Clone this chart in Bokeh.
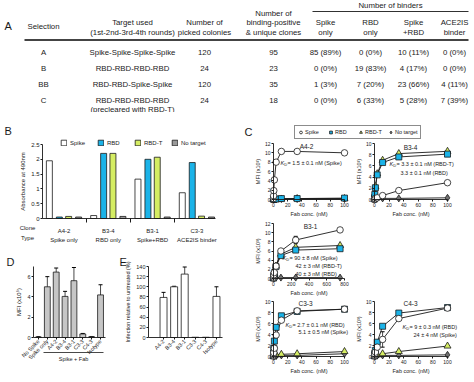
import math
from bokeh.plotting import figure
from bokeh.models import (Range1d, FixedTicker, Label, Legend, LegendItem, Whisker,
                          ColumnDataSource, Arrow, Spacer)
from bokeh.layouts import row, column
from bokeh.embed import file_html
from bokeh.resources import INLINE
from bokeh.core.properties import value

FONT = "Liberation Sans"
INK = "#1a1a1a"
CYAN = "#1bb3e8"
LIME = "#d5ed63"
GRAY = "#9a9a9a"
LGRAY = "#c6c6c6"
DGRAY = "#707070"

# ---------------- Panel A : table ----------------
selections = ["A", "B", "BB", "C"]
targets = ["Spike-Spike-Spike-Spike", "RBD-RBD-RBD-RBD", "RBD-RBD-Spike-Spike", "RBD-RBD-RBD-RBD"]
target_note = "(precleared with RBD-T)"
picked_colonies = [120, 24, 120, 24]
unique_clones = [95, 23, 35, 18]
spike_only = ["85 (89%)", "0 (0%)", "1 (3%)", "0 (0%)"]
rbd_only = ["0 (0%)", "19 (83%)", "7 (20%)", "6 (33%)"]
spike_rbd = ["10 (11%)", "4 (17%)", "23 (66%)", "5 (28%)"]
ace2is_binder = ["0 (0%)", "0 (0%)", "4 (11%)", "7 (39%)"]

# ---------------- Panel B : ELISA ----------------
b_clones = ["A4-2", "B3-4", "B3-1", "C3-3"]
b_types = ["Spike only", "RBD only", "Spike+RBD", "ACE2IS binder"]
b_spike = [1.95, 0.10, 1.33, 0.87]
b_rbd = [0.05, 2.20, 2.00, 1.89]
b_rbdt = [0.07, 2.20, 2.07, 0.08]
b_none = [0.05, 0.07, 0.05, 0.05]

# ---------------- Panel C : binding titrations ----------------
conc_nm = [0, 0.14, 0.41, 1.23, 3.7, 11.1, 33.3, 100]
conc_b31 = [0, 1.0, 3.1, 9.3, 27.8, 83.3, 250, 750]

a42_spike = [0.2, 0.8, 1.9, 4.2, 8.0, 10.3, 10.3, 10.0]
a42_rbd = [0.1, 0.1, 0.1, 0.1, 0.1, 0.2, 0.2, 0.3]
a42_rbdt = [0.1, 0.1, 0.1, 0.1, 0.1, 0.1, 0.2, 0.2]
a42_none = [0.1, 0.1, 0.1, 0.1, 0.1, 0.1, 0.1, 0.1]
a42_err = [0, 0, 0, 0, 0, 0, 0, 0]

b34_spike = [0.0, 0.05, 0.1, 0.15, 0.3, 0.7, 1.6, 3.0]
b34_rbd = [0.1, 0.3, 0.9, 2.1, 4.4, 6.6, 7.6, 8.1]
b34_rbdt = [0.1, 0.3, 1.0, 2.3, 4.6, 7.0, 8.2, 8.6]
b34_none = [0.1, 0.1, 0.1, 0.1, 0.2, 0.2, 0.2, 0.3]
b34_err = [0, 0, 0, 0, 0, 0, 0, 0]

b31_spike = [0.1, 0.3, 0.8, 1.3, 2.7, 6.0, 8.4, 10.6]
b31_rbd = [0.1, 0.3, 0.6, 1.0, 2.6, 5.0, 6.2, 6.5]
b31_rbdt = [0.1, 0.3, 0.6, 1.1, 2.7, 5.3, 6.8, 7.2]
b31_none = [0.1, 0.1, 0.1, 0.1, 0.2, 0.2, 0.2, 0.2]
b31_err = [0, 0, 0, 0, 0, 0, 0.8, 0]

c33_spike = [0.1, 0.3, 0.7, 1.5, 3.9, 6.6, 8.3, 8.6]
c33_rbd = [0.1, 0.6, 1.5, 2.8, 5.3, 7.4, 8.2, 8.6]
c33_rbdt = [0.1, 0.1, 0.1, 0.2, 0.3, 0.4, 0.5, 0.9]
c33_none = [0.1, 0.1, 0.1, 0.1, 0.1, 0.2, 0.2, 0.5]
c33_err = [0, 0, 0, 0, 0, 0, 0, 0]

c43_spike = [0.1, 0.2, 0.4, 0.8, 1.7, 3.1, 6.9, 8.8]
c43_rbd = [0.1, 0.3, 0.6, 1.1, 2.6, 5.5, 7.9, 8.9]
c43_rbdt = [0.1, 0.1, 0.1, 0.2, 0.3, 0.5, 0.9, 1.9]
c43_none = [0.1, 0.1, 0.1, 0.1, 0.2, 0.2, 0.2, 0.3]
c43_err = [0, 0, 0, 0, 0, 1.4, 0, 0]

kd_a42 = ["= 1.5 ± 0.1 nM (Spike)"]
kd_b34 = ["= 3.3 ± 0.1 nM (RBD-T)", "3.3 ± 0.1 nM (RBD)"]
kd_b31 = ["= 90 ± 8 nM (Spike)", "42 ± 3 nM (RBD-T)", "40 ± 3 nM (RBD)"]
kd_c33 = ["= 2.7 ± 0.1 nM (RBD)", "5.1 ± 0.5 nM (Spike)"]
kd_c43 = ["= 9 ± 0.3 nM (RBD)", "24 ± 4 nM (Spike)"]

# ---------------- Panel D ----------------
d_groups = ["No Spike", "Spike only", "A4-2", "B3-4", "B3-1", "C3-3", "C4-3", "Isotype"]
d_mfi = [0.05, 5.0, 6.45, 4.05, 5.6, 0.35, 0.08, 4.2]
d_err = [0.02, 1.0, 0.4, 0.5, 1.3, 0.05, 0.02, 1.0]

# ---------------- Panel E ----------------
e_groups = ["A4-2", "B3-4", "B3-1", "C3-3", "C4-3", "Isotype"]
e_infection = [79, 100, 125, 0.5, 0.5, 81]
e_err = [10, 1, 14, 0, 0, 19]


class Cell:
    """A figure whose frame fills its whole box; data rectangle placed at given page pixels."""
    def __init__(self, box, xdat, xpx, ydat, ypx, axes=True):
        self.x0, self.y0, self.x1, self.y1 = box
        self.kx = (xpx[1] - xpx[0]) / (xdat[1] - xdat[0])
        self.ky = (ypx[0] - ypx[1]) / (ydat[1] - ydat[0])
        xa = xdat[0] - (xpx[0] - self.x0) / self.kx
        yb = ydat[0] - (self.y1 - ypx[0]) / self.ky
        self.xa, self.yb = xa, yb
        kw = dict(width=self.x1 - self.x0, height=self.y1 - self.y0,
                  x_range=Range1d(xa, xa + (self.x1 - self.x0) / self.kx),
                  y_range=Range1d(yb, yb + (self.y1 - self.y0) / self.ky),
                  toolbar_location=None, output_backend="svg", title=None,
                  min_border_left=0, min_border_right=0, min_border_top=0, min_border_bottom=0)
        if not axes:
            kw.update(x_axis_type=None, y_axis_type=None)
        p = figure(**kw)
        p.outline_line_color = None
        p.grid.visible = False
        p.background_fill_color = "white"
        p.border_fill_color = "white"
        self.p = p

    def X(self, page_x):
        return self.xa + (page_x - self.x0) / self.kx

    def Y(self, page_y):
        return self.yb + (self.y1 - page_y) / self.ky

    def lab(self, text, px, py, size="6px", align="left", baseline="middle", style="normal", angle=0):
        self.p.add_layout(Label(x=self.X(px), y=self.Y(py), text=text, text_font=FONT,
                                text_font_size=size, text_align=align, text_baseline=baseline,
                                text_color=INK, text_font_style=style, angle=angle))

    def loc(self, px_left, py_bottom):
        return (px_left - self.x0, self.y1 - py_bottom)


def style_axes(p, tick_fs, label_fs, xloc, yloc, xbounds, ybounds):
    for ax in p.axis:
        ax.axis_line_color = INK
        ax.axis_line_width = 0.9
        ax.major_tick_line_color = INK
        ax.major_tick_in = 0
        ax.major_tick_out = 2
        ax.minor_tick_line_color = None
        ax.major_label_text_font = FONT
        ax.major_label_text_font_size = tick_fs
        ax.major_label_text_color = INK
        ax.major_label_standoff = 1
        ax.axis_label_text_font = FONT
        ax.axis_label_text_font_size = label_fs
        ax.axis_label_text_font_style = "normal"
        ax.axis_label_text_color = INK
        ax.axis_label_standoff = 2
    p.xaxis.fixed_location = xloc
    p.yaxis.fixed_location = yloc
    p.xaxis.bounds = xbounds
    p.yaxis.bounds = ybounds


# ================= Panel A figure =================
pa = figure(width=474, height=112, x_range=Range1d(0, 474), y_range=Range1d(112, 0),
            x_axis_type=None, y_axis_type=None, toolbar_location=None, output_backend="svg",
            title=None, min_border_left=0, min_border_right=0, min_border_top=0, min_border_bottom=0)
pa.outline_line_color = None
pa.grid.visible = False
col_x = [43, 132, 204, 273, 325, 370, 413, 454]
row_y = [52, 68, 84, 100]
table_cols = [selections, targets, picked_colonies, unique_clones, spike_only, rbd_only, spike_rbd, ace2is_binder]
tx, ty, tt = [], [], []
for cx, vals in zip(col_x, table_cols):
    for ry, v in zip(row_y, vals):
        tx.append(cx); ty.append(ry); tt.append(str(v))
tx.append(col_x[1]); ty.append(108.5); tt.append(target_note)
headers = [("Selection", 0, 26), ("Target used", 1, 21.5), ("(1st-2nd-3rd-4th rounds)", 1, 31.5),
           ("Number of", 2, 21.5), ("picked colonies", 2, 31.5),
           ("Number of", 3, 12.5), ("binding-positive", 3, 22), ("& unique clones", 3, 31.5),
           ("Spike", 4, 21.5), ("only", 4, 31.5), ("RBD", 5, 21.5), ("only", 5, 31.5),
           ("Spike", 6, 21.5), ("+RBD", 6, 31.5), ("ACE2IS", 7, 21.5), ("binder", 7, 31.5)]
for t, ci, yy in headers:
    tx.append(col_x[ci]); ty.append(yy); tt.append(t)
tx.append(390); ty.append(5); tt.append("Number of binders")
pa.text(x=tx, y=ty, text=tt, text_align="center", text_baseline="middle",
        text_font=value(FONT), text_font_size="7.8px", text_color=INK)
pa.segment(x0=[312], y0=[11], x1=[468], y1=[11], line_color=INK, line_width=0.9)
pa.segment(x0=[24], y0=[39.5], x1=[468], y1=[39.5], line_color="#444444", line_width=1.8)
pa.text(x=[4], y=[25], text=["A"], text_align="left", text_baseline="middle",
        text_font=value(FONT), text_font_size="11px", text_color=INK)

# ================= Panel B figure =================
cb = Cell((0, 112, 228, 245), (-0.485, 3.42), (42, 215), (0, 2.5), (218, 144))
pb = cb.p
grp = list(range(len(b_clones)))
offsets = [-0.33, -0.105, 0.105, 0.33]
b_series = [("Spike", b_spike, "white"), ("RBD", b_rbd, CYAN), ("RBD-T", b_rbdt, LIME), ("No target", b_none, GRAY)]
b_items = []
for off, (name, vals, col) in zip(offsets, b_series):
    r = pb.vbar(x=[g + off for g in grp], top=vals, bottom=0, width=0.135,
                fill_color=col, line_color=INK, line_width=0.8)
    b_items.append(LegendItem(label=name, renderers=[r]))
pb.add_layout(Legend(items=b_items, orientation="horizontal", location=cb.loc(60, 146),
                     border_line_color=None, background_fill_alpha=0, padding=0, margin=0,
                     spacing=7, glyph_width=7, glyph_height=7, label_standoff=3, label_height=7,
                     label_text_font=FONT, label_text_font_size="6px", label_text_color=INK))
style_axes(pb, "6px", "6px", 0, -0.485, (-0.485, 3.42), (0, 2.5))
pb.yaxis.ticker = FixedTicker(ticks=[0, 0.5, 1.0, 1.5, 2.0, 2.5])
pb.yaxis.axis_label = "Absorbance at 490nm"
pb.xaxis.ticker = FixedTicker(ticks=grp, minor_ticks=[0.5, 1.5, 2.5])
pb.xaxis.major_label_overrides = {i: f"{c}\n{t}" for i, (c, t) in enumerate(zip(b_clones, b_types))}
pb.xaxis.major_tick_out = 0
pb.xaxis.minor_tick_out = 4
pb.xaxis.minor_tick_in = 0
pb.xaxis.minor_tick_line_color = INK
pb.xaxis.major_label_standoff = 5
pb.xaxis.major_label_text_line_height = 1.6
cb.lab("B", 4, 130, size="11px")
cb.lab("Clone", 27, 227, align="center")
cb.lab("Type", 27, 237, align="center")

# ================= Panel D figure =================
cd = Cell((0, 245, 118, 382), (-0.56, 7.56), (33, 105), (0, 7), (337, 266))
pdd = cd.p
dx = list(range(len(d_groups)))
pdd.vbar(x=dx, top=d_mfi, bottom=0, width=0.66, fill_color=LGRAY, line_color=INK, line_width=0.8)
dsrc = ColumnDataSource(dict(x=dx, lo=[v - e for v, e in zip(d_mfi, d_err)], hi=[v + e for v, e in zip(d_mfi, d_err)]))
wd = Whisker(source=dsrc, base="x", lower="lo", upper="hi", line_color=INK, line_width=0.8)
wd.upper_head.size = 4
wd.lower_head.size = 4
pdd.add_layout(wd)
style_axes(pdd, "5.5px", "6px", 0, -0.56, (-0.56, 7.56), (0, 7))
pdd.yaxis.ticker = FixedTicker(ticks=[0, 2, 4, 6])
pdd.yaxis.axis_label = "MFI (x10⁵)"
pdd.xaxis.ticker = FixedTicker(ticks=dx)
pdd.xaxis.major_label_overrides = {i: g for i, g in enumerate(d_groups)}
pdd.xaxis.major_label_orientation = math.pi / 4
pdd.add_layout(Arrow(end=None, x_start=cd.X(43), y_start=cd.Y(352), x_end=cd.X(103), y_end=cd.Y(352),
                     line_color=INK, line_width=0.8))
cd.lab("Spike + Fab", 73, 358, size="5.5px", align="center")
cd.lab("D", 6, 261, size="11px")

# ================= Panel E figure =================
ce = Cell((118, 245, 228, 382), (-1.42, 5.57), (148, 222), (0, 140), (337, 266))
pe = ce.p
ex = list(range(len(e_groups)))
pe.vbar(x=ex, top=e_infection, bottom=0, width=0.66, fill_color="white", line_color=INK, line_width=0.8)
eidx = [i for i, e in enumerate(e_err) if e > 0]
esrc = ColumnDataSource(dict(x=[ex[i] for i in eidx],
                             lo=[e_infection[i] - e_err[i] for i in eidx],
                             hi=[e_infection[i] + e_err[i] for i in eidx]))
we = Whisker(source=esrc, base="x", lower="lo", upper="hi", line_color=INK, line_width=0.8)
we.upper_head.size = 4
we.lower_head.size = 4
pe.add_layout(we)
style_axes(pe, "5.5px", "5.5px", 0, -1.42, (-1.42, 5.57), (0, 140))
pe.yaxis.ticker = FixedTicker(ticks=[0, 20, 40, 60, 80, 100, 120, 140])
pe.yaxis.axis_label = "Infection relative to untreated (%)"
pe.xaxis.ticker = FixedTicker(ticks=ex)
pe.xaxis.major_label_overrides = {i: g for i, g in enumerate(e_groups)}
pe.xaxis.major_label_orientation = math.pi / 4
ce.lab("E", 119, 261, size="11px")

# ================= Panel C =================
ch = Cell((228, 112, 474, 140), (228, 474), (228, 474), (0, 28), (140, 112), axes=False)
pch = ch.p
ch.lab("C", 244, 131, size="11px")
marker_specs = [("Spike", "circle", 7, "white"), ("RBD", "square", 7, CYAN),
                ("RBD-T", "triangle", 7, LIME), ("No target", "diamond", 8, DGRAY)]
c_items = []
for name, mk, sz, fc in marker_specs:
    # legend-only renderer: its single point lies outside the visible range
    r = pch.scatter(x=[-1000], y=[-1000], marker=mk, size=sz, fill_color=fc, line_color=INK, line_width=0.8)
    c_items.append(LegendItem(label=name, renderers=[r]))
pch.add_layout(Legend(items=c_items, orientation="horizontal", location=ch.loc(294, 139),
                      border_line_color=INK, border_line_width=0.8, background_fill_color="white",
                      padding=2, margin=0, spacing=2, glyph_width=7, glyph_height=8,
                      label_standoff=1, label_height=8,
                      label_text_font=FONT, label_text_font_size="5.5px", label_text_color=INK))


def bind_panel(box, title, conc, spike, rbd, rbdt, none, err, xmax, xticks, ymax, yticks,
               xpx, ypx, title_xy, kd_texts, kd_xy):
    c = Cell(box, (0, xmax), xpx, (0, ymax), ypx)
    p = c.p
    series = [(none, "diamond", 7, DGRAY), (rbdt, "triangle", 7, LIME),
              (rbd, "square", 6, CYAN), (spike, "circle", 6.5, "white")]
    for vals, *_ in series:
        p.line(conc, vals, line_color=INK, line_width=0.9)
    idx = [i for i, e in enumerate(err) if e > 0]
    if idx:
        src = ColumnDataSource(dict(x=[conc[i] for i in idx], lo=[spike[i] - err[i] for i in idx],
                                    hi=[spike[i] + err[i] for i in idx]))
        wh = Whisker(source=src, base="x", lower="lo", upper="hi", line_color=INK, line_width=0.8)
        wh.upper_head.size = 4
        wh.lower_head.size = 4
        p.add_layout(wh)
    for vals, mk, sz, fc in series:
        p.scatter(conc, vals, marker=mk, size=sz, fill_color=fc, line_color=INK, line_width=0.8)
    style_axes(p, "5px", "5.5px", 0, 0, (0, xmax), (0, ymax))
    p.xaxis.ticker = FixedTicker(ticks=xticks)
    p.yaxis.ticker = FixedTicker(ticks=yticks)
    p.xaxis.axis_label = "Fab conc. (nM)"
    p.yaxis.axis_label = "MFI (x10³)"
    p.xaxis.axis_label_standoff = 1
    p.yaxis.axis_label_standoff = 1
    c.lab(title, title_xy[0], title_xy[1], size="6.5px", align="center")
    (kx, ky), rest = kd_xy[0], kd_xy[1:]
    c.lab("K", kx, ky, size="5.5px", style="italic")
    c.lab("D", kx + 3.7, ky + 1.5, size="4px")
    c.lab(kd_texts[0], kx + 7, ky, size="5.5px")
    for t, (x2, y2) in zip(kd_texts[1:], rest):
        c.lab(t, x2, y2, size="5.5px")
    return p


t100 = [0, 20, 40, 60, 80, 100]
y12 = [0, 2, 4, 6, 8, 10, 12]
y10 = [0, 2, 4, 6, 8, 10]
c_a42 = bind_panel((228, 140, 354, 217), "A4-2", conc_nm, a42_spike, a42_rbd, a42_rbdt, a42_none, a42_err,
                   100, t100, 12, y12, (273, 344), (199, 143), (306, 146), kd_a42, [(280, 162)])
c_b34 = bind_panel((354, 140, 474, 217), "B3-4", conc_nm, b34_spike, b34_rbd, b34_rbdt, b34_none, b34_err,
                   100, t100, 10, y10, (374, 447), (199, 143), (410, 147), kd_b34, [(389, 163), (400, 172)])
c_b31 = bind_panel((228, 217, 354, 296), "B3-1", conc_b31, b31_spike, b31_rbd, b31_rbdt, b31_none, b31_err,
                   800, [0, 200, 400, 600, 800], 12, y12, (273, 344), (278, 223), (310, 226), kd_b31,
                   [(282, 257), (295, 265), (295, 273)])
c_c33 = bind_panel((228, 296, 354, 382), "C3-3", conc_nm, c33_spike, c33_rbd, c33_rbdt, c33_none, c33_err,
                   100, t100, 10, y10, (273, 344), (356, 301), (305, 303), kd_c33, [(285, 324), (298, 331)])
c_c43 = bind_panel((354, 296, 474, 382), "C4-3", conc_nm, c43_spike, c43_rbd, c43_rbdt, c43_none, c43_err,
                   100, t100, 10, y10, (374, 447), (356, 301), (410, 303), kd_c43, [(402, 326), (413, 334)])

left = column(pb, row(pdd, pe))
right = column(pch, row(c_a42, c_b34), row(c_b31, Spacer(width=120, height=79)), row(c_c33, c_c43))
layout = column(pa, row(left, right))

open("out.html", "w").write(file_html(layout, INLINE))
